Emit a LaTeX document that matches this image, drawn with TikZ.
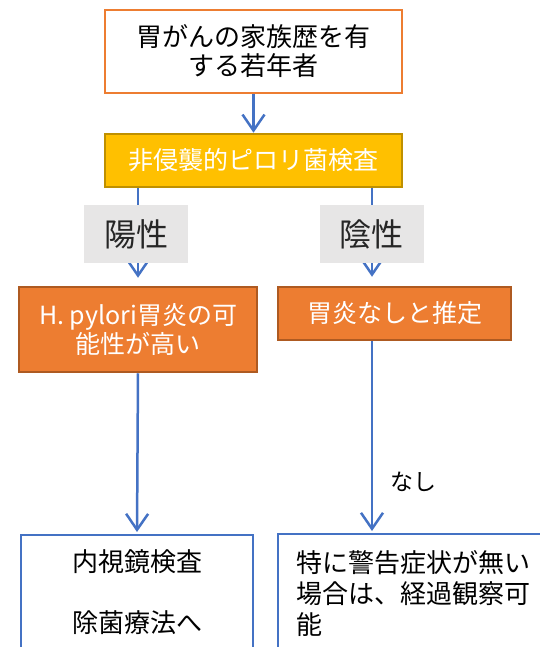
\documentclass[tikz,border=0pt]{standalone}
\usepackage{fontspec}
\setmainfont{Noto Sans CJK JP}
\usetikzlibrary{arrows.meta}
\definecolor{orng}{HTML}{ED7D31}
\definecolor{orngdark}{HTML}{AE5A21}
\definecolor{yel}{HTML}{FFC000}
\definecolor{yeldark}{HTML}{BF9000}
\definecolor{grayfill}{HTML}{E7E6E6}
\definecolor{blu}{HTML}{4472C4}
\tikzset{
  boxbase/.style={rectangle, inner sep=0pt, align=center},
  startbox/.style={boxbase, draw=orng, line width=2.5pt, fill=white, text=black,
    font=\fontsize{26}{29}\selectfont},
  yelbox/.style={boxbase, draw=yeldark, line width=2.5pt, fill=yel, text=white,
    font=\fontsize{25}{29}\selectfont},
  orbox/.style={boxbase, draw=orngdark, line width=2.5pt, fill=orng, text=white,
    font=\fontsize{25}{29}\selectfont},
  graylabel/.style={boxbase, fill=grayfill, text=black!85,
    font=\fontsize{32}{36}\selectfont},
  endbox/.style={boxbase, draw=blu, line width=2pt, fill=white},
  endtext/.style={inner sep=0pt, text=black, font=\fontsize{26}{31}\selectfont},
  conn/.style={draw=blu, line width=2.5pt, -{Straight Barb[length=16pt,width=22pt,line width=2.5pt]}},
  smalllabel/.style={inner sep=0pt, text=black, font=\fontsize{23}{26}\selectfont}
}
\begin{document}
\begin{tikzpicture}[x=1pt,y=-1pt]
\useasboundingbox (0,0) rectangle (540,647);
\clip (0,0) rectangle (540,647);

\node[startbox, minimum width=297pt, minimum height=83pt] (top) at (253.5,51.5)
  {胃がんの家族歴を有\\する若年者};
\node[yelbox, minimum width=297pt, minimum height=53pt] (ye) at (253.5,160.5)
  {非侵襲的ピロリ菌検査};
\node[orbox, minimum width=238pt, minimum height=85pt] (lo) at (138,329.5)
  {H. pylori胃炎の可\\能性が高い};
\node[orbox, minimum width=233pt, minimum height=53pt] (ro) at (394.5,313.5)
  {胃炎なしと推定};
\node[endbox, minimum width=232pt, minimum height=165pt] (bl) at (137,617.5) {};
\node[endbox, minimum width=322pt, minimum height=166pt] (br) at (439,617) {};

\coordinate (rx) at (372,0);

\draw[conn] (top.south) -- (ye.north);
\draw[conn] (ye.south -| lo.north) -- ([yshift=8pt]lo.north);
\draw[conn] (ye.south -| rx) -- ([yshift=9pt]ro.north -| rx);
\draw[conn] (lo.south) -- ([yshift=2pt]bl.north);
\draw[conn] (ro.south -| rx) -- ([yshift=2pt]br.north -| rx);

\node[graylabel, minimum width=104pt, minimum height=58pt] (pos) at (136,234) {陽性};
\node[graylabel, minimum width=104pt, minimum height=58pt] (neg) at (371.5,234) {陰性};
\node[smalllabel] (nashi) at (413,482) {なし};

\node[endtext, align=center] (bltext) at (137,592.5) {内視鏡検査\\[30pt]除菌療法へ};
\node[endtext, align=left, anchor=west] (brtext) at (296,594)
  {特に警告症状が無い\\場合は、経過観察可\\能};
\end{tikzpicture}
\end{document}
